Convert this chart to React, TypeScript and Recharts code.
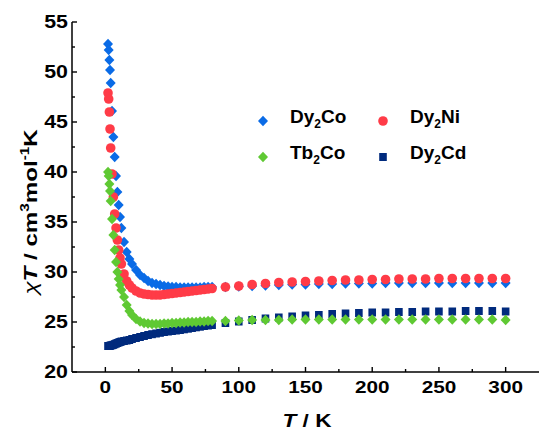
import React from "react";
import { ScatterChart, Scatter, XAxis, YAxis, Legend } from "recharts";

// temperatures (K) shared by all four samples
const temps = [
  2, 2.5, 3, 3.5, 4, 5, 6, 7, 8, 9, 10, 11, 12, 14, 16, 18, 20, 23, 26, 29, 32, 35, 38, 41, 44, 47,
  50, 53, 56, 59, 62, 65, 68, 71, 74, 77, 80, 90, 100, 110, 120, 130, 140, 150, 160, 170, 180, 190,
  200, 210, 220, 230, 240, 250, 260, 270, 280, 290, 300,
];

const dy2Co = [
  52.8, 52.2, 51.2, 50.2, 48.9, 46.1, 43.5, 41.5, 39.6, 38.0, 36.7, 35.5, 34.4, 33.0, 32.0, 31.3, 30.8,
  30.2, 29.7, 29.4, 29.1, 28.9, 28.8, 28.7, 28.6, 28.55, 28.5, 28.5, 28.45, 28.45, 28.45, 28.45, 28.45,
  28.45, 28.5, 28.5, 28.5, 28.5, 28.55, 28.6, 28.65, 28.7, 28.75, 28.75, 28.8, 28.8, 28.85, 28.85,
  28.85, 28.9, 28.9, 28.9, 28.9, 28.9, 28.9, 28.9, 28.9, 28.9, 28.9,
];

const dy2Ni = [
  47.9, 47.3, 46.0, 44.3, 42.4, 39.8, 37.5, 35.8, 34.4, 33.2, 32.2, 31.4, 30.8, 29.8, 29.1, 28.7, 28.4,
  28.1, 27.9, 27.8, 27.75, 27.7, 27.7, 27.7, 27.75, 27.8, 27.85, 27.9, 27.95, 28.0, 28.05, 28.1, 28.15,
  28.2, 28.25, 28.3, 28.35, 28.5, 28.6, 28.75, 28.85, 28.95, 29.0, 29.05, 29.1, 29.15, 29.2, 29.2,
  29.25, 29.25, 29.3, 29.3, 29.3, 29.35, 29.35, 29.35, 29.35, 29.35, 29.35,
];

const tb2Co = [
  40.0, 39.6, 38.8, 38.1, 37.1, 35.3, 33.7, 32.2, 31.0, 30.0, 29.3, 28.7, 28.2, 27.5, 26.7, 26.1, 25.7,
  25.3, 25.05, 24.9, 24.85, 24.8, 24.8, 24.8, 24.85, 24.85, 24.9, 24.9, 24.95, 24.95, 25.0, 25.0, 25.0,
  25.05, 25.05, 25.1, 25.1, 25.1, 25.15, 25.2, 25.2, 25.2, 25.25, 25.25, 25.25, 25.25, 25.25, 25.25,
  25.25, 25.25, 25.25, 25.25, 25.25, 25.25, 25.25, 25.25, 25.25, 25.25, 25.2,
];

const dy2Cd = [
  22.6, 22.6, 22.6, 22.62, 22.65, 22.68, 22.72, 22.78, 22.84, 22.9, 22.95, 23.0, 23.05, 23.1, 23.15,
  23.2, 23.3, 23.4, 23.5, 23.6, 23.7, 23.78, 23.85, 23.92, 24.0, 24.05, 24.1, 24.15, 24.2, 24.27, 24.33,
  24.4, 24.47, 24.53, 24.6, 24.65, 24.7, 24.9, 25.05, 25.2, 25.35, 25.45, 25.55, 25.65, 25.7, 25.8,
  25.85, 25.9, 25.95, 25.95, 26.0, 26.0, 26.05, 26.05, 26.05, 26.1, 26.1, 26.1, 26.05,
];

const xTicks = [0, 25, 50, 75, 100, 125, 150, 175, 200, 225, 250, 275, 300];
const yTicks = [20, 22.5, 25, 27.5, 30, 32.5, 35, 37.5, 40, 42.5, 45, 47.5, 50, 52.5, 55];

const BLUE = "#0a6be6";
const RED = "#ff3b47";
const GREEN = "#5fc933";
const NAVY = "#002a7d";
const FONT = "'Liberation Sans', Arial, sans-serif";

const toPoints = (vals: number[]) => temps.map((t, i) => ({ t, v: vals[i] }));

const Diamond = (color: string) => (p: any) => (
  <path
    d={`M${p.cx},${p.cy - 5.3}L${p.cx + 5},${p.cy}L${p.cx},${p.cy + 5.3}L${p.cx - 5},${p.cy}Z`}
    fill={color}
  />
);
const Dot = (color: string) => (p: any) => <circle cx={p.cx} cy={p.cy} r={4.8} fill={color} />;
const Square = (color: string) => (p: any) => (
  <rect x={p.cx - 3.8} y={p.cy - 4} width={7.6} height={8} fill={color} />
);

// the original export is stretched sideways, so labels get a horizontal scale
function XTick(props: any) {
  const { x, y, payload } = props;
  const major = payload.value % 50 === 0;
  return (
    <g>
      <line x1={x} x2={x} y1={y} y2={y - (major ? 5 : 3)} stroke="#000" strokeWidth={1.4} />
      {major && (
        <text
          transform={`translate(${x},${y + 21}) scale(1.22,1)`}
          textAnchor="middle"
          fontSize={17}
          fontWeight={700}
          fontFamily={FONT}
          fill="#000"
        >
          {payload.value}
        </text>
      )}
    </g>
  );
}

function YTick(props: any) {
  const { x, y, payload } = props;
  const major = payload.value % 5 === 0;
  return (
    <g>
      <line x1={x} x2={x + (major ? 5 : 3)} y1={y} y2={y} stroke="#000" strokeWidth={1.4} />
      {major && (
        <text
          transform={`translate(${x - 4},${y + 6.3}) scale(1.22,1)`}
          textAnchor="end"
          fontSize={17.5}
          fontWeight={700}
          fontFamily={FONT}
          fill="#000"
        >
          {payload.value}
        </text>
      )}
    </g>
  );
}

function XTitle() {
  return (
    <text
      transform="translate(307,427) scale(1.22,1)"
      textAnchor="middle"
      fontSize={18.5}
      fontWeight={700}
      fontFamily={FONT}
      fill="#000"
    >
      <tspan fontStyle="italic">T</tspan>
      <tspan> / K</tspan>
    </text>
  );
}

function YTitle() {
  return (
    <text
      transform="translate(37,212) rotate(-90) scale(1.27,1)"
      textAnchor="middle"
      fontSize={19}
      fontWeight={700}
      fontFamily={FONT}
      fill="#000"
    >
      <tspan fontStyle="italic" fontWeight="normal">χ</tspan>
      <tspan fontStyle="italic">T</tspan>
      <tspan> / cm</tspan>
      <tspan fontSize={12} dy={-8}>3</tspan>
      <tspan dy={8}>mol</tspan>
      <tspan fontSize={12} dy={-8}>-1</tspan>
      <tspan dy={8}>K</tspan>
    </text>
  );
}

const legendItems = [
  { name: "Dy", sub: "2", rest: "Co", color: BLUE, kind: "diamond", left: 0, top: 0 },
  { name: "Dy", sub: "2", rest: "Ni", color: RED, kind: "circle", left: 120, top: 0 },
  { name: "Tb", sub: "2", rest: "Co", color: GREEN, kind: "diamond", left: 0, top: 36 },
  { name: "Dy", sub: "2", rest: "Cd", color: NAVY, kind: "square", left: 120, top: 36 },
];

function LegendBox() {
  return (
    <div style={{ position: "relative", width: 230, height: 70, fontFamily: FONT }}>
      {legendItems.map((it) => (
        <div key={it.name + it.rest} style={{ position: "absolute", left: it.left, top: it.top, display: "flex", alignItems: "center" }}>
          <svg width={26} height={20}>
            {it.kind === "diamond" && <path d="M13,4.7L18,10L13,15.3L8,10Z" fill={it.color} />}
            {it.kind === "circle" && <circle cx={13} cy={10} r={4.8} fill={it.color} />}
            {it.kind === "square" && <rect x={9.2} y={6} width={7.6} height={8} fill={it.color} />}
          </svg>
          <span style={{ marginLeft: 14, fontSize: 19, fontWeight: "bold", color: "#000", lineHeight: "20px" }}>
            {it.name}
            <sub style={{ fontSize: 12, verticalAlign: -5 }}>{it.sub}</sub>
            {it.rest}
          </span>
        </div>
      ))}
    </div>
  );
}

export default function App() {
  return (
    <div style={{ position: "absolute", left: 0, top: 0, width: 539, height: 431, background: "#fff" }}>
      <ScatterChart width={539} height={431} margin={{ top: 22, right: 0, bottom: 0, left: 0 }}>
        <XAxis
          type="number"
          dataKey="t"
          domain={[-25, 325]}
          ticks={xTicks}
          interval={0}
          height={59}
          tickSize={0}
          tickMargin={0}
          tickLine={false}
          tick={<XTick />}
          axisLine={{ stroke: "#000", strokeWidth: 1.5 }}
          label={<XTitle />}
        />
        <YAxis
          type="number"
          dataKey="v"
          domain={[20, 55]}
          ticks={yTicks}
          interval={0}
          width={72}
          tickSize={0}
          tickMargin={0}
          tickLine={false}
          tick={<YTick />}
          axisLine={{ stroke: "#000", strokeWidth: 1.5 }}
          label={<YTitle />}
        />
        <Scatter name="Dy2Co" data={toPoints(dy2Co)} shape={Diamond(BLUE)} isAnimationActive={false} />
        <Scatter name="Dy2Ni" data={toPoints(dy2Ni)} shape={Dot(RED)} isAnimationActive={false} />
        <Scatter name="Dy2Cd" data={toPoints(dy2Cd)} shape={Square(NAVY)} isAnimationActive={false} />
        <Scatter name="Tb2Co" data={toPoints(tb2Co)} shape={Diamond(GREEN)} isAnimationActive={false} />
        <Legend
          layout="horizontal"
          verticalAlign="middle"
          align="center"
          content={<LegendBox />}
          wrapperStyle={{ left: 250, top: 107, width: 230, height: 70 }}
        />
      </ScatterChart>
    </div>
  );
}
